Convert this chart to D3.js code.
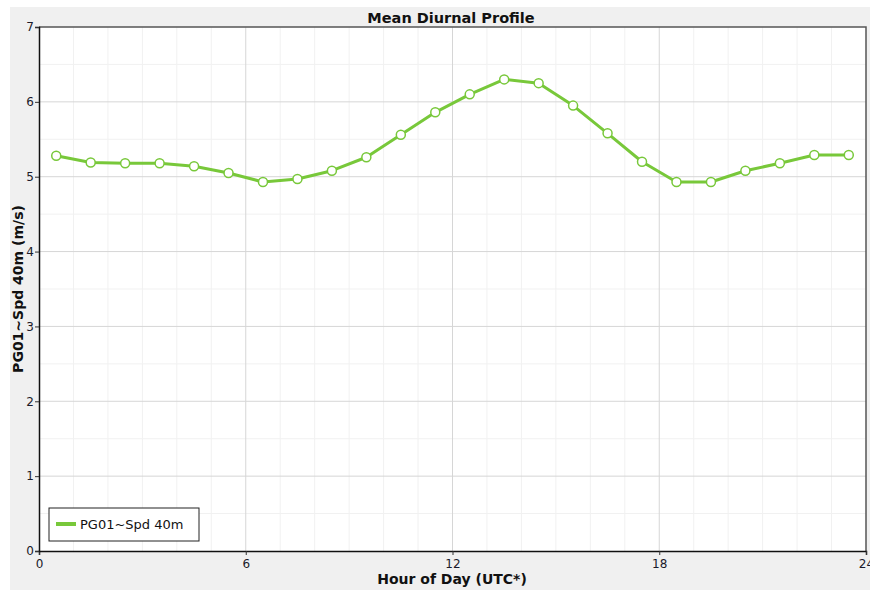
<!DOCTYPE html>
<html>
<head>
<meta charset="utf-8">
<script src="https://cdn.jsdelivr.net/npm/d3@7"></script>
<style>
  body { margin: 0; background: #fff; }
  text { font-family: "DejaVu Sans", Verdana, sans-serif; }
</style>
</head>
<body>
<div id="chart"></div>
<script>
// data
const hours = [0.5, 1.5, 2.5, 3.5, 4.5, 5.5, 6.5, 7.5, 8.5, 9.5, 10.5, 11.5,
  12.5, 13.5, 14.5, 15.5, 16.5, 17.5, 18.5, 19.5, 20.5, 21.5, 22.5, 23.5];
const speed = [5.28, 5.19, 5.18, 5.18, 5.14, 5.05, 4.93, 4.97, 5.08, 5.26, 5.56, 5.86,
  6.10, 6.30, 6.25, 5.95, 5.58, 5.20, 4.93, 4.93, 5.08, 5.18, 5.29, 5.29];
const xTicks = [0, 6, 12, 18, 24];
const yTicks = [0, 1, 2, 3, 4, 5, 6, 7];
const seriesName = "PG01~Spd 40m";

const width = 870, height = 590;
const margin = { top: 27, right: 4, bottom: 39, left: 39 };
const green = "#78c83a";

const svg = d3.select("#chart").append("svg")
  .attr("width", width).attr("height", height);

// gray panel
svg.append("rect").attr("x", 10).attr("y", 7)
  .attr("width", width - 10).attr("height", height - 7)
  .attr("fill", "#f0f0f0");

const x = d3.scaleLinear().domain([0, 24]).range([margin.left, width - margin.right]);
const y = d3.scaleLinear().domain([0, 7]).range([height - margin.bottom, margin.top]);

svg.append("rect")
  .attr("x", x(0)).attr("y", y(7))
  .attr("width", x(24) - x(0)).attr("height", y(0) - y(7))
  .attr("fill", "#fff");

// minor grid
const g = svg.append("g");
g.selectAll(".vminor").data(d3.range(1, 24).filter(h => h % 6 !== 0)).join("line")
  .attr("x1", d => x(d)).attr("x2", d => x(d))
  .attr("y1", y(7)).attr("y2", y(0))
  .attr("stroke", "#f1f1f1").attr("stroke-width", 1);
g.selectAll(".hminor").data(d3.range(0.5, 7, 1)).join("line")
  .attr("x1", x(0)).attr("x2", x(24))
  .attr("y1", d => y(d)).attr("y2", d => y(d))
  .attr("stroke", "#f1f1f1").attr("stroke-width", 1);
// major grid
g.selectAll(".vmajor").data([6, 12, 18]).join("line")
  .attr("x1", d => x(d)).attr("x2", d => x(d))
  .attr("y1", y(7)).attr("y2", y(0))
  .attr("stroke", "#d6d6d6").attr("stroke-width", 1);
g.selectAll(".hmajor").data([1, 2, 3, 4, 5, 6]).join("line")
  .attr("x1", x(0)).attr("x2", x(24))
  .attr("y1", d => y(d)).attr("y2", d => y(d))
  .attr("stroke", "#d6d6d6").attr("stroke-width", 1);

// frame top/right
svg.append("path")
  .attr("d", `M${x(0)},${y(7)}H${x(24)}V${y(0)}`)
  .attr("fill", "none").attr("stroke", "#555").attr("stroke-width", 1.5);

// axes
const xAxis = svg.append("g")
  .attr("transform", `translate(0,${y(0)})`)
  .call(d3.axisBottom(x).tickValues(xTicks).tickFormat(d3.format("d")).tickSize(4));
const yAxis = svg.append("g")
  .attr("transform", `translate(${x(0)},0)`)
  .call(d3.axisLeft(y).tickValues(yTicks).tickFormat(d3.format("d")).tickSize(4));
[xAxis, yAxis].forEach(a => {
  a.select(".domain").attr("stroke", "#111").attr("stroke-width", 1.5);
  a.selectAll(".tick line").attr("stroke", "#333");
  a.selectAll(".tick text").attr("fill", "#1a1a2a")
    .style("font-family", "'DejaVu Sans', sans-serif").style("font-size", "12px");
});
xAxis.selectAll(".tick text").attr("dy", "0.85em");
yAxis.selectAll(".tick text").attr("dx", "0.15em");

// line + markers
const pts = hours.map((h, i) => [h, speed[i]]);
svg.append("path").datum(pts)
  .attr("fill", "none").attr("stroke", green).attr("stroke-width", 3)
  .attr("stroke-linejoin", "round")
  .attr("d", d3.line().x(d => x(d[0])).y(d => y(d[1])));
svg.selectAll(".pt").data(pts).join("circle")
  .attr("cx", d => x(d[0])).attr("cy", d => y(d[1])).attr("r", 4.5)
  .attr("fill", "#fff").attr("stroke", green).attr("stroke-width", 1.5);

// titles
svg.append("text").attr("x", 451).attr("y", 23).attr("text-anchor", "middle")
  .style("font-size", "14.5px").style("font-weight", "bold").attr("fill", "#111")
  .text("Mean Diurnal Profile");
svg.append("text").attr("x", 452).attr("y", 584).attr("text-anchor", "middle")
  .style("font-size", "14px").style("font-weight", "bold").attr("fill", "#111")
  .text("Hour of Day (UTC*)");
svg.append("text").attr("transform", `translate(23,289) rotate(-90)`)
  .attr("text-anchor", "middle")
  .style("font-size", "14px").style("font-weight", "bold").attr("fill", "#111")
  .text("PG01~Spd 40m (m/s)");

// legend
const lg = svg.append("g").attr("transform", "translate(49,508)");
lg.append("rect").attr("width", 150).attr("height", 33)
  .attr("fill", "#fff").attr("stroke", "#222").attr("stroke-width", 1);
lg.append("line").attr("x1", 7).attr("x2", 27).attr("y1", 16).attr("y2", 16)
  .attr("stroke", green).attr("stroke-width", 4);
lg.append("text").attr("x", 31).attr("y", 21)
  .style("font-size", "13px").attr("fill", "#111").text(seriesName);
</script>
</body>
</html>
